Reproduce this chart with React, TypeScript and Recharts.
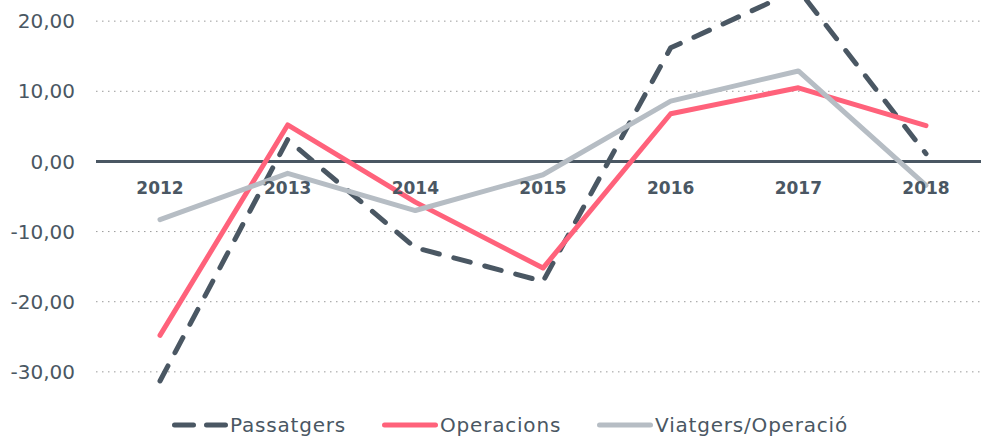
import React from 'react';
import { LineChart, Line, XAxis, YAxis, CartesianGrid, ReferenceLine } from 'recharts';

const YEARS = ['2012', '2013', '2014', '2015', '2016', '2017', '2018'];
const PASSATGERS = [-31.3, 3.1, -12.3, -17.1, 16.2, 24.5, 1.1];
const OPERACIONS = [-24.8, 5.2, -5.8, -15.2, 6.8, 10.5, 5.1];
const VIATGERS_OPERACIO = [-8.3, -1.7, -7.0, -1.9, 8.6, 12.9, -3.4];
const Y_TICKS = [-30, -20, -10, 0, 10, 20];

const DATA = YEARS.map((year, i) => ({
  year,
  passatgers: PASSATGERS[i],
  operacions: OPERACIONS[i],
  viatgers: VIATGERS_OPERACIO[i],
}));

const SLATE = '#4a5763';
const PINK = '#ff627b';
const SILVER = '#b6bdc4';
const FONT = '"DejaVu Sans", sans-serif';

const SERIES = [
  { key: 'passatgers', name: 'Passatgers', color: SLATE, dash: '17 15', legendDash: '19 13' },
  { key: 'operacions', name: 'Operacions', color: PINK, dash: undefined, legendDash: undefined },
  { key: 'viatgers', name: 'Viatgers/Operació', color: SILVER, dash: undefined, legendDash: undefined },
];

const fmt = (v: number) => v.toFixed(2).replace('.', ',');

// year labels sit just under the zero line, not at the bottom of the plot
const YearTick = (props: any) => {
  const { x, y, payload } = props;
  return (
    <text x={x} y={y} dy={-256} textAnchor="middle" fill={SLATE} fontFamily={FONT} fontSize={17} fontWeight="bold">
      {payload.value}
    </text>
  );
};

const ChartLegend = () => (
  <div style={{ position: 'absolute', left: 172, top: 412, height: 26, display: 'flex', alignItems: 'center', gap: 36, fontFamily: FONT, fontSize: 20, letterSpacing: 0.8, color: SLATE }}>
    {SERIES.map((s) => (
      <div key={s.key} style={{ display: 'flex', alignItems: 'center', gap: 2, lineHeight: '26px' }}>
        <svg width={56} height={10}>
          <line x1={2.5} y1={5} x2={53.5} y2={5} stroke={s.color} strokeWidth={5} strokeLinecap="round" strokeDasharray={s.legendDash} />
        </svg>
        <span>{s.name}</span>
      </div>
    ))}
  </div>
);

export default function App() {
  return (
    <div style={{ position: 'absolute', left: 0, top: 0, width: 981, height: 438, overflow: 'hidden', background: '#fff' }}>
      <div style={{ position: 'absolute', left: 0, top: -60 }}>
        <LineChart width={1000} height={522} data={DATA} margin={{ top: 11, right: 10, left: 16, bottom: 0 }}>
          <CartesianGrid horizontal vertical={false} stroke="#9a9a9a" strokeDasharray="1.5 4.5" />
          <XAxis
            dataKey="year"
            axisLine={false}
            tickLine={false}
            height={20}
            padding={{ left: 64, right: 64 }}
            tick={<YearTick />}
            interval={0}
          />
          <YAxis
            domain={[-40, 30]}
            allowDataOverflow
            ticks={Y_TICKS}
            axisLine={false}
            tickLine={false}
            width={80}
            tickMargin={15}
            tickFormatter={fmt}
            tick={{ fill: SLATE, fontFamily: FONT, fontSize: 20 }}
          />
          <ReferenceLine y={0} stroke={SLATE} strokeWidth={3} />
          {SERIES.map((s) => (
            <Line
              key={s.key}
              type="linear"
              dataKey={s.key}
              name={s.name}
              stroke={s.color}
              strokeWidth={5}
              strokeDasharray={s.dash}
              strokeLinecap="round"
              strokeLinejoin="round"
              dot={false}
              activeDot={false}
              isAnimationActive={false}
            />
          ))}
        </LineChart>
      </div>
      <ChartLegend />
    </div>
  );
}
